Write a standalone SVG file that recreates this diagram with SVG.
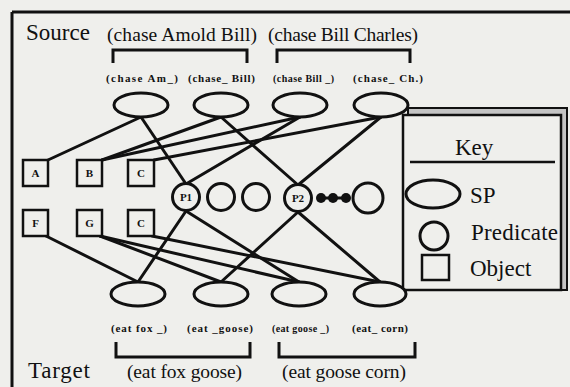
<svg xmlns="http://www.w3.org/2000/svg" width="570" height="387" viewBox="0 0 570 387" font-family="'Liberation Serif', 'DejaVu Serif', serif">
<style>
.bg{fill:#efefec}
.sp{fill:none;stroke:#111;stroke-width:3}
.pr{fill:#efefec;stroke:#111;stroke-width:3}
.ob{fill:#efefec;stroke:#111;stroke-width:2.5}
.ln{stroke:#111;stroke-width:3;fill:none;stroke-linecap:round}
.br{stroke:#111;stroke-width:3;fill:none}
text{font-family:'Liberation Serif','DejaVu Serif',serif;fill:#111}
.big{font-size:23px}
.mid{font-size:19.5px}
.sm{font-size:11px;font-weight:bold}
.xs{font-size:10px;font-weight:bold}
.lt{font-size:11px;font-weight:bold;text-anchor:middle}
</style>
<rect class="bg" x="0" y="0" width="570" height="387"/>
<g id="frame">
<line x1="12" y1="12" x2="570" y2="12" class="br"/>
<line x1="12" y1="12" x2="12" y2="387" class="br"/>
</g>
<g id="key">
<rect x="408" y="108" width="159" height="182" fill="#c4c4c4" stroke="#111" stroke-width="2"/>
<rect x="403" y="115" width="158" height="175" fill="#efefec" stroke="#111" stroke-width="2.5"/>
<text class="big" x="455" y="155">Key</text>
<line x1="410" y1="162" x2="555" y2="162" stroke="#111" stroke-width="2.5"/>
<ellipse cx="433" cy="194" rx="27" ry="14" class="sp"/>
<text class="big" x="470" y="203">SP</text>
<circle cx="434" cy="236" r="14" class="pr"/>
<text class="big" x="471" y="240" textLength="87">Predicate</text>
<rect x="422" y="255" width="27" height="25" class="ob"/>
<text class="big" x="470" y="276">Object</text>
</g>
<g id="connectors">
<line class="ln" x1="48" y1="160" x2="141" y2="117"/>
<line class="ln" x1="141" y1="117" x2="186" y2="184"/>
<line class="ln" x1="102" y1="160" x2="221" y2="117"/>
<line class="ln" x1="221" y1="117" x2="298" y2="185"/>
<line class="ln" x1="102" y1="160" x2="300" y2="117"/>
<line class="ln" x1="300" y1="117" x2="186" y2="184"/>
<line class="ln" x1="154" y1="160" x2="381" y2="117"/>
<line class="ln" x1="381" y1="117" x2="298" y2="185"/>
<line class="ln" x1="46" y1="236" x2="138" y2="282"/>
<line class="ln" x1="186" y1="211" x2="138" y2="282"/>
<line class="ln" x1="100" y1="236" x2="221" y2="282"/>
<line class="ln" x1="298" y1="212" x2="221" y2="282"/>
<line class="ln" x1="100" y1="236" x2="299" y2="282"/>
<line class="ln" x1="186" y1="211" x2="299" y2="282"/>
<line class="ln" x1="152" y1="236" x2="380" y2="282"/>
<line class="ln" x1="298" y1="212" x2="380" y2="282"/>
</g>
<g id="source-labels">
<text class="big" x="26" y="40" textLength="64">Source</text>
<text class="mid" x="107" y="41" textLength="150">(chase Amold Bill)</text>
<text class="mid" x="268" y="41" textLength="150">(chase Bill Charles)</text>
<path class="br" d="M113,63 V50 H247 V63"/>
<path class="br" d="M277,63 V50 H410 V63"/>
</g>
<g id="sp1"><ellipse cx="141" cy="105" rx="27" ry="12" class="pr"/><text class="sm" x="106" y="82" textLength="72">(chase Am_)</text></g>
<g id="sp2"><ellipse cx="221" cy="105" rx="27" ry="12" class="pr"/><text class="sm" x="188" y="82" textLength="67">(chase_ Bill)</text></g>
<g id="sp3"><ellipse cx="300" cy="105" rx="27" ry="12" class="pr"/><text class="xs" x="273" y="82" textLength="61">(chase Bill _)</text></g>
<g id="sp4"><ellipse cx="381" cy="105" rx="27" ry="12" class="pr"/><text class="sm" x="353" y="82" textLength="70">(chase_ Ch.)</text></g>
<g id="objA"><rect x="23" y="160" width="25" height="26" class="ob"/><text class="lt" x="35.5" y="177">A</text></g>
<g id="objB"><rect x="77" y="160" width="25" height="26" class="ob"/><text class="lt" x="89.5" y="177">B</text></g>
<g id="objC1"><rect x="128" y="160" width="26" height="26" class="ob"/><text class="lt" x="141" y="177">C</text></g>
<g id="objF"><rect x="23" y="210" width="25" height="26" class="ob"/><text class="lt" x="35.5" y="227">F</text></g>
<g id="objG"><rect x="77" y="210" width="25" height="26" class="ob"/><text class="lt" x="89.5" y="227">G</text></g>
<g id="objC2"><rect x="128" y="210" width="26" height="26" class="ob"/><text class="lt" x="141" y="227">C</text></g>
<g id="p1"><circle cx="186" cy="197" r="13.5" class="pr"/><text class="lt" x="186" y="201">P1</text></g>
<g id="pc2"><circle cx="221" cy="197" r="13.5" class="pr"/></g>
<g id="pc3"><circle cx="256" cy="197" r="13.5" class="pr"/></g>
<g id="p2"><circle cx="298" cy="198" r="13.5" class="pr"/><text class="lt" x="298" y="202">P2</text></g>
<g id="dots">
<line x1="321" y1="198" x2="346" y2="198" stroke="#111" stroke-width="3"/>
<circle cx="321" cy="198" r="5" fill="#111"/>
<circle cx="333" cy="198" r="5" fill="#111"/>
<circle cx="346" cy="198" r="5" fill="#111"/>
</g>
<g id="pcn"><circle cx="368" cy="198" r="15" class="pr"/></g>
<g id="tp1"><ellipse cx="138" cy="294" rx="27" ry="12" class="pr"/><text class="sm" x="111" y="332" textLength="56">(eat fox _)</text></g>
<g id="tp2"><ellipse cx="221" cy="294" rx="27" ry="12" class="pr"/><text class="sm" x="187" y="332" textLength="66">(eat _goose)</text></g>
<g id="tp3"><ellipse cx="299" cy="294" rx="27" ry="12" class="pr"/><text class="xs" x="272" y="332" textLength="57">(eat goose _)</text></g>
<g id="tp4"><ellipse cx="380" cy="294" rx="26" ry="12" class="pr"/><text class="sm" x="352" y="332" textLength="56">(eat_ corn)</text></g>
<g id="target-labels">
<path class="br" d="M116,342 V357 H250 V342"/>
<path class="br" d="M279,342 V357 H415 V342"/>
<text class="big" x="28" y="378" textLength="62">Target</text>
<text class="mid" x="127" y="378" textLength="115">(eat fox goose)</text>
<text class="mid" x="282" y="378" textLength="124">(eat goose corn)</text>
</g>
</svg>
